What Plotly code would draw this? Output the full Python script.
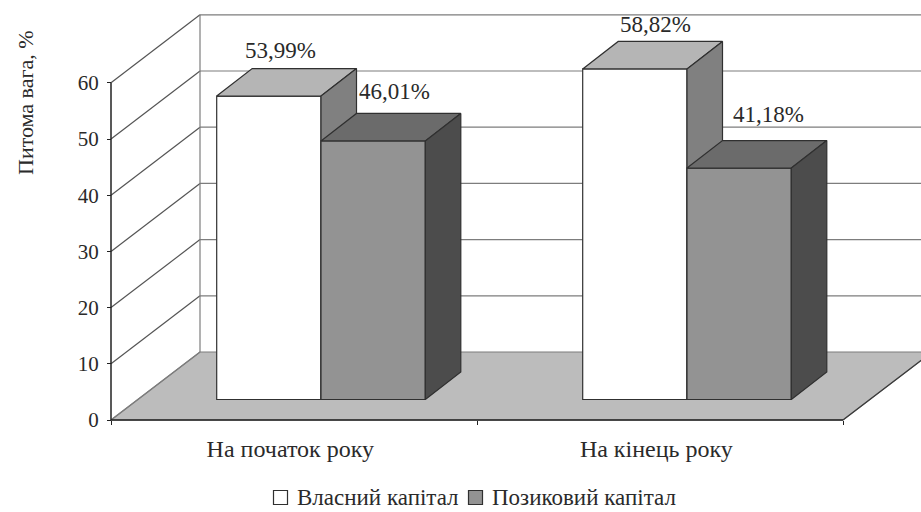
import plotly.graph_objects as go

# Chart data
categories = ["На початок року", "На кінець року"]
own_capital = [53.99, 58.82]
loan_capital = [46.01, 41.18]
own_name = "Власний капітал"
loan_name = "Позиковий капітал"
y_ticks = [0, 10, 20, 30, 40, 50, 60]
y_title = "Питома вага, %"

# Canvas and scale: one category is 366 px wide, one percent is 5.62 px tall
W, H = 921, 512
PX_X, PX_Y = 366.0, 5.62
X0_PX, Y0_PX = 111, 420
X_RANGE = [-X0_PX / PX_X, (W - X0_PX) / PX_X]
Y_RANGE = [-(H - Y0_PX) / PX_Y, Y0_PX / PX_Y]

# Oblique projection of the box and of the bars
BOX_DX, BOX_DY = 89 / PX_X, 68 / PX_Y
BAR_DX, BAR_DY = 35.5 / PX_X, 27.5 / PX_Y
BAR_W = 104.3 / PX_X
BAR_START = 105.7 / PX_X
BAR_BASE = 20.5 / PX_Y

SERIF = "Liberation Serif"
INK = "#2a2a2a"
GRID = "#7d7d7d"
SIDE_GRID = "#555555"
EDGE = "#303030"

OWN_COLORS = dict(front="#ffffff", top="#b5b5b5", side="#808080")
LOAN_COLORS = dict(front="#939393", top="#6b6b6b", side="#4c4c4c")

fig = go.Figure()


def poly(xs, ys, fill, line=None, width=1.2, xa="x", ya="y"):
    fig.add_trace(go.Scatter(
        x=xs + xs[:1], y=ys + ys[:1], mode="lines", fill="toself", fillcolor=fill,
        line=dict(color=line or fill, width=width), hoverinfo="skip", showlegend=False,
        xaxis=xa, yaxis=ya))


def seg(xs, ys, color=GRID, width=1.2, xa="x", ya="y"):
    fig.add_trace(go.Scatter(
        x=xs, y=ys, mode="lines", line=dict(color=color, width=width),
        hoverinfo="skip", showlegend=False, xaxis=xa, yaxis=ya))


# Floor
poly([0, 2, 2 + BOX_DX, BOX_DX], [0, 0, BOX_DY, BOX_DY], "#bcbcbc", GRID)

# Back wall and side wall grid
x_far = 2 + BOX_DX
for t in y_ticks[1:]:
    seg([BOX_DX, x_far], [t + BOX_DY, t + BOX_DY])
    seg([0, BOX_DX], [t, t + BOX_DY], color=SIDE_GRID)
seg([BOX_DX, BOX_DX], [BOX_DY, 60 + BOX_DY])
seg([0, BOX_DX], [0, BOX_DY])
seg([2, x_far], [0, BOX_DY], color="#3a3a3a")

# Axis lines
seg([0, 0], [0, 60], color="#222222", width=1.5)
seg([0, 2], [0, 0], color="#222222", width=1.5)


def series(values, slot, name, colors, xa, ya):
    lefts = [i + BAR_START + slot * BAR_W for i in range(len(values))]
    fig.add_trace(go.Bar(
        x=lefts, y=values, base=BAR_BASE, width=BAR_W, offset=0, name=name,
        marker=dict(color=colors["front"], line=dict(color=EDGE, width=1.2)),
        hoverinfo="skip", showlegend=False, xaxis=xa, yaxis=ya))
    for left, v in zip(lefts, values):
        right = left + BAR_W
        up = BAR_BASE + v
        poly([left, right, right + BAR_DX, left + BAR_DX],
             [up, up, up + BAR_DY, up + BAR_DY], colors["top"], EDGE, xa=xa, ya=ya)
        poly([right, right + BAR_DX, right + BAR_DX, right],
             [BAR_BASE, BAR_BASE + BAR_DY, up + BAR_DY, up], colors["side"], EDGE, xa=xa, ya=ya)


series(own_capital, 0, own_name, OWN_COLORS, "x2", "y2")
series(loan_capital, 1, loan_name, LOAN_COLORS, "x3", "y3")

# Value labels, nudged in pixels off the bar tops
annotations = []
labels = [
    (0, own_capital[0], 0, 12, 46),
    (0, loan_capital[0], 1, 21, 49),
    (1, own_capital[1], 0, 21, 44),
    (1, loan_capital[1], 1, 29, 54),
]
for i, v, slot, dx, dy in labels:
    annotations.append(dict(
        x=i + BAR_START + (slot + 0.5) * BAR_W, y=BAR_BASE + v, xref="x", yref="y",
        text=f"{v:.2f}%".replace(".", ","), showarrow=False, xshift=dx, yshift=dy,
        font=dict(family=SERIF, size=23, color=INK)))
annotations.append(dict(
    x=25 / W, y=1 - 103 / H, xref="paper", yref="paper", xanchor="center", yanchor="middle",
    text=y_title, textangle=-90, showarrow=False,
    font=dict(family=SERIF, size=22, color=INK)))

# Key under the chart: a square swatch and a caption per series, laid out in pixels
shapes = []
KEY_Y = 497.5
KEY_SIDE = 14
for name, colors, swatch_x, text_x in [(own_name, OWN_COLORS, 273.5, 295),
                                       (loan_name, LOAN_COLORS, 468.5, 490)]:
    shapes.append(dict(
        type="rect", xref="paper", yref="paper",
        x0=swatch_x / W, x1=(swatch_x + KEY_SIDE) / W,
        y0=1 - (KEY_Y + KEY_SIDE / 2) / H, y1=1 - (KEY_Y - KEY_SIDE / 2) / H,
        fillcolor=colors["front"], line=dict(color=EDGE, width=1.2)))
    annotations.append(dict(
        x=text_x / W, y=1 - KEY_Y / H, xref="paper", yref="paper",
        xanchor="left", yanchor="middle", text=name, showarrow=False,
        font=dict(family=SERIF, size=23, color=INK)))

hidden = dict(visible=False, fixedrange=True)
fig.update_layout(
    width=W, height=H, autosize=False,
    margin=dict(l=0, r=0, t=0, b=0),
    paper_bgcolor="white", plot_bgcolor="white", showlegend=False,
    barmode="overlay", annotations=annotations, shapes=shapes,
    xaxis=dict(
        range=X_RANGE, anchor="free", position=(H - Y0_PX) / H, showgrid=False, zeroline=False,
        tickmode="array", tickvals=[0.49, 1.49], ticktext=categories, ticks="",
        ticklabelstandoff=12, tickfont=dict(family=SERIF, size=24, color=INK),
        minor=dict(tickmode="array", tickvals=[0, 1, 2], ticks="outside", ticklen=4,
                   tickcolor="#222222", tickwidth=1.2, showgrid=False)),
    yaxis=dict(
        range=Y_RANGE, anchor="free", position=X0_PX / W, showgrid=False, zeroline=False,
        tickmode="array", tickvals=y_ticks, ticks="outside", ticklen=4, tickcolor="#222222",
        tickwidth=1.2, ticklabelstandoff=4, tickfont=dict(family=SERIF, size=21, color=INK)),
    xaxis2=dict(range=X_RANGE, overlaying="x", **hidden),
    yaxis2=dict(range=Y_RANGE, overlaying="y", **hidden),
    xaxis3=dict(range=X_RANGE, overlaying="x", **hidden),
    yaxis3=dict(range=Y_RANGE, overlaying="y", **hidden),
)

fig.write_html("out.html", config=dict(displayModeBar=False))
